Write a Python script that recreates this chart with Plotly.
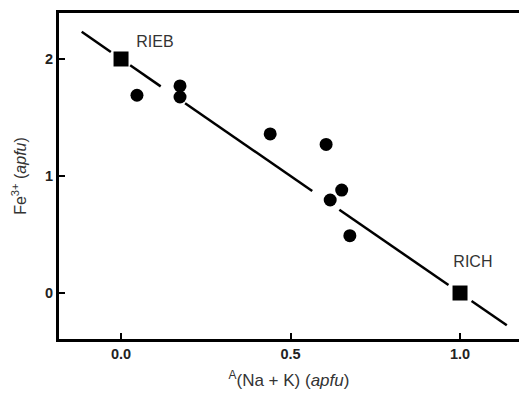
import plotly.graph_objects as go

# Data
sample_x = [0.047, 0.174, 0.174, 0.44, 0.605, 0.651, 0.617, 0.675]
sample_y = [1.69, 1.77, 1.675, 1.36, 1.27, 0.88, 0.795, 0.49]

end_x = [0.0, 1.0]
end_y = [2.0, 0.0]
end_labels = ["RIEB", "RICH"]
label_x = [0.10, 1.038]
label_y = [2.135, 0.255]

fit_slope = -2.0
fit_intercept = 2.0
fit_segments = [(-0.116, -0.03), (0.027, 0.117), (0.189, 0.564), (0.644, 0.966), (1.034, 1.138)]

x_tickvals = [0.0, 0.5, 1.0]
x_ticktext = ["0.0", "0.5", "1.0"]
y_tickvals = [0, 1, 2]
y_ticktext = ["0", "1", "2"]

line_x, line_y = [], []
for a, b in fit_segments:
    line_x += [a, b, None]
    line_y += [fit_intercept + fit_slope * a, fit_intercept + fit_slope * b, None]

fig = go.Figure()
fig.add_trace(go.Scatter(x=line_x, y=line_y, mode="lines",
                         line=dict(color="black", width=2.5), showlegend=False, hoverinfo="skip"))
fig.add_trace(go.Scatter(x=sample_x, y=sample_y, mode="markers",
                         marker=dict(symbol="circle", size=13, color="black"), showlegend=False))
fig.add_trace(go.Scatter(x=end_x, y=end_y, mode="markers",
                         marker=dict(symbol="square", size=15, color="black"), showlegend=False))
fig.add_trace(go.Scatter(x=label_x, y=label_y, mode="text", text=end_labels,
                         textfont=dict(family="Liberation Sans, Arial", size=16, color="#333"),
                         showlegend=False))

fig.update_layout(
    width=519, height=402,
    margin=dict(l=59, r=0, t=13, b=63),
    plot_bgcolor="white", paper_bgcolor="white",
    font=dict(family="Liberation Sans, Arial", color="#222"),
    xaxis=dict(range=[-0.183, 1.174], showgrid=False, zeroline=False, automargin=False,
               showline=True, linecolor="black", linewidth=3, mirror=True,
               ticks="inside", ticklen=6, tickwidth=2, tickcolor="black",
               tickvals=x_tickvals, ticktext=x_ticktext,
               tickfont=dict(size=14.5, color="#222", weight="bold"),
               title=dict(text="<sup>A</sup>(Na + K) (<i>apfu</i>)",
                          font=dict(size=17, color="#333"), standoff=13)),
    yaxis=dict(range=[-0.393, 2.393], showgrid=False, zeroline=False, automargin=False,
               showline=True, linecolor="black", linewidth=3, mirror=False,
               ticks="inside", ticklen=6, tickwidth=2, tickcolor="black",
               tickvals=y_tickvals, ticktext=y_ticktext,
               tickfont=dict(size=14.5, color="#222", weight="bold"),
               title=dict(text="Fe<sup>3+</sup> (<i>apfu</i>)",
                          font=dict(size=16, color="#333"), standoff=15)),
)

fig.write_html("out.html", config={"displayModeBar": False},
               post_script="document.body.style.margin='0';document.body.style.overflow='hidden';")
